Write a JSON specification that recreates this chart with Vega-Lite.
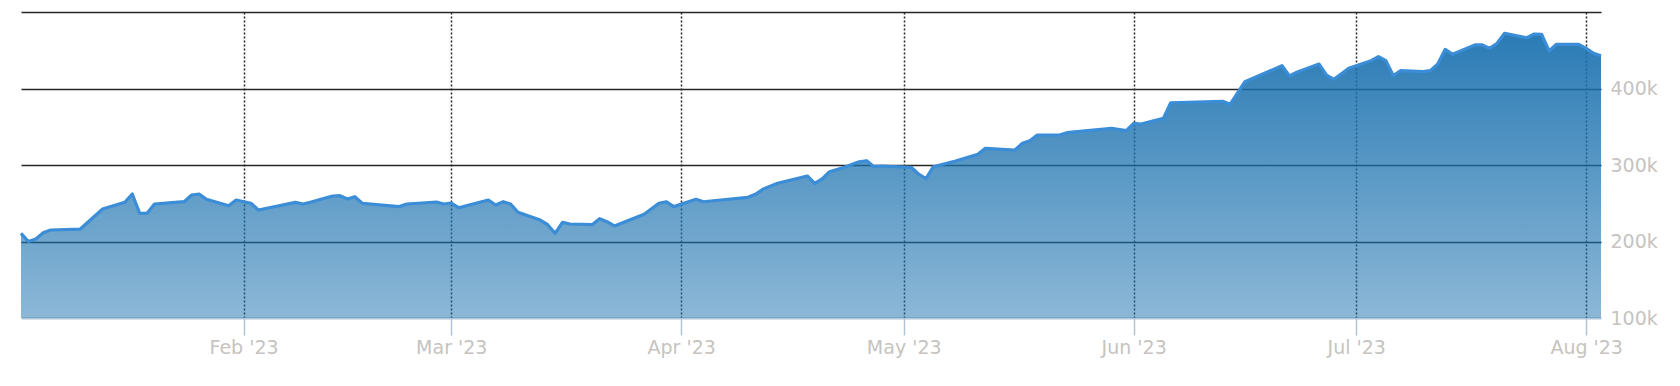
{
  "$schema": "https://vega.github.io/schema/vega-lite/v6.json",
  "width": 1580,
  "height": 306,
  "autosize": {"type": "none"},
  "padding": {"left": 21, "top": 12, "right": 79, "bottom": 68},
  "background": "white",
  "config": {"view": {"stroke": null}},
  "data": {
    "values": [
      {"date": "2023-01-02", "value": 210700},
      {"date": "2023-01-03", "value": 200000},
      {"date": "2023-01-04", "value": 203300},
      {"date": "2023-01-05", "value": 211500},
      {"date": "2023-01-06", "value": 215000},
      {"date": "2023-01-10", "value": 216300},
      {"date": "2023-01-13", "value": 242500},
      {"date": "2023-01-16", "value": 251200},
      {"date": "2023-01-17", "value": 262100},
      {"date": "2023-01-18", "value": 236900},
      {"date": "2023-01-19", "value": 236900},
      {"date": "2023-01-20", "value": 249000},
      {"date": "2023-01-24", "value": 252000},
      {"date": "2023-01-25", "value": 260800},
      {"date": "2023-01-26", "value": 262100},
      {"date": "2023-01-27", "value": 255200},
      {"date": "2023-01-30", "value": 246800},
      {"date": "2023-01-31", "value": 254200},
      {"date": "2023-02-02", "value": 250000},
      {"date": "2023-02-03", "value": 241200},
      {"date": "2023-02-08", "value": 251200},
      {"date": "2023-02-09", "value": 249000},
      {"date": "2023-02-10", "value": 251200},
      {"date": "2023-02-13", "value": 259500},
      {"date": "2023-02-14", "value": 259900},
      {"date": "2023-02-15", "value": 255600},
      {"date": "2023-02-16", "value": 258600},
      {"date": "2023-02-17", "value": 250000},
      {"date": "2023-02-22", "value": 245600},
      {"date": "2023-02-23", "value": 249000},
      {"date": "2023-02-27", "value": 251600},
      {"date": "2023-02-28", "value": 249000},
      {"date": "2023-03-01", "value": 250300},
      {"date": "2023-03-02", "value": 244200},
      {"date": "2023-03-06", "value": 254200},
      {"date": "2023-03-07", "value": 247700},
      {"date": "2023-03-08", "value": 252000},
      {"date": "2023-03-09", "value": 249000},
      {"date": "2023-03-10", "value": 238200},
      {"date": "2023-03-13", "value": 228000},
      {"date": "2023-03-14", "value": 222000},
      {"date": "2023-03-15", "value": 210700},
      {"date": "2023-03-16", "value": 225100},
      {"date": "2023-03-17", "value": 222900},
      {"date": "2023-03-20", "value": 222000},
      {"date": "2023-03-21", "value": 229900},
      {"date": "2023-03-22", "value": 225900},
      {"date": "2023-03-23", "value": 220300},
      {"date": "2023-03-27", "value": 235600},
      {"date": "2023-03-29", "value": 250000},
      {"date": "2023-03-30", "value": 252000},
      {"date": "2023-03-31", "value": 245600},
      {"date": "2023-04-03", "value": 255200},
      {"date": "2023-04-04", "value": 252000},
      {"date": "2023-04-10", "value": 257800},
      {"date": "2023-04-11", "value": 261700},
      {"date": "2023-04-12", "value": 268200},
      {"date": "2023-04-14", "value": 276100},
      {"date": "2023-04-18", "value": 285600},
      {"date": "2023-04-19", "value": 276100},
      {"date": "2023-04-20", "value": 281700},
      {"date": "2023-04-21", "value": 291200},
      {"date": "2023-04-23", "value": 297000},
      {"date": "2023-04-25", "value": 304300},
      {"date": "2023-04-26", "value": 305600},
      {"date": "2023-04-27", "value": 297800},
      {"date": "2023-04-28", "value": 298700},
      {"date": "2023-05-02", "value": 297000},
      {"date": "2023-05-03", "value": 288200},
      {"date": "2023-05-04", "value": 282100},
      {"date": "2023-05-05", "value": 297800},
      {"date": "2023-05-08", "value": 305200},
      {"date": "2023-05-11", "value": 314000},
      {"date": "2023-05-12", "value": 321800},
      {"date": "2023-05-16", "value": 319600},
      {"date": "2023-05-17", "value": 328400},
      {"date": "2023-05-18", "value": 331800},
      {"date": "2023-05-19", "value": 339200},
      {"date": "2023-05-22", "value": 339200},
      {"date": "2023-05-23", "value": 342200},
      {"date": "2023-05-29", "value": 348000},
      {"date": "2023-05-31", "value": 344900},
      {"date": "2023-06-01", "value": 354500},
      {"date": "2023-06-02", "value": 353600},
      {"date": "2023-06-05", "value": 361000},
      {"date": "2023-06-06", "value": 381400},
      {"date": "2023-06-13", "value": 383300},
      {"date": "2023-06-14", "value": 379300},
      {"date": "2023-06-16", "value": 408900},
      {"date": "2023-06-21", "value": 429800},
      {"date": "2023-06-22", "value": 416300},
      {"date": "2023-06-23", "value": 421200},
      {"date": "2023-06-26", "value": 432000},
      {"date": "2023-06-27", "value": 417600},
      {"date": "2023-06-28", "value": 412000},
      {"date": "2023-06-30", "value": 426400},
      {"date": "2023-07-03", "value": 436400},
      {"date": "2023-07-04", "value": 441600},
      {"date": "2023-07-05", "value": 436400},
      {"date": "2023-07-06", "value": 416800},
      {"date": "2023-07-07", "value": 423300},
      {"date": "2023-07-10", "value": 422000},
      {"date": "2023-07-11", "value": 423300},
      {"date": "2023-07-12", "value": 432000},
      {"date": "2023-07-13", "value": 451200},
      {"date": "2023-07-14", "value": 444700},
      {"date": "2023-07-17", "value": 456900},
      {"date": "2023-07-18", "value": 456900},
      {"date": "2023-07-19", "value": 452500},
      {"date": "2023-07-20", "value": 459100},
      {"date": "2023-07-21", "value": 472200},
      {"date": "2023-07-24", "value": 466400},
      {"date": "2023-07-25", "value": 471200},
      {"date": "2023-07-26", "value": 470800},
      {"date": "2023-07-27", "value": 449000},
      {"date": "2023-07-28", "value": 457800},
      {"date": "2023-07-31", "value": 457800},
      {"date": "2023-08-01", "value": 452500},
      {"date": "2023-08-02", "value": 446000},
      {"date": "2023-08-03", "value": 442900}
    ]
  },
  "encoding": {
    "x": {
      "field": "date",
      "type": "temporal",
      "scale": {"type": "utc", "nice": false, "padding": 0},
      "axis": {
        "title": null,
        "values": [
          {"year": 2023, "month": 2, "date": 1, "utc": true},
          {"year": 2023, "month": 3, "date": 1, "utc": true},
          {"year": 2023, "month": 4, "date": 1, "utc": true},
          {"year": 2023, "month": 5, "date": 1, "utc": true},
          {"year": 2023, "month": 6, "date": 1, "utc": true},
          {"year": 2023, "month": 7, "date": 1, "utc": true},
          {"year": 2023, "month": 8, "date": 1, "utc": true}
        ],
        "format": "%b '%y",
        "grid": true,
        "gridColor": "#262626",
        "gridDash": [2, 2],
        "gridWidth": 1.5,
        "domainColor": "#b0c4d8",
        "domainWidth": 2,
        "tickColor": "#b0c4d8",
        "tickSize": 17,
        "tickWidth": 1.5,
        "labelColor": "#c6c3c0",
        "labelFont": "DejaVu Sans",
        "labelFontSize": 19,
        "labelPadding": 3,
        "labelFlush": false,
        "labelOverlap": false,
        "zindex": 0
      }
    },
    "y": {
      "field": "value",
      "type": "quantitative",
      "scale": {"domain": [100000, 500000], "nice": false, "zero": false},
      "axis": {
        "orient": "right",
        "title": null,
        "values": [100000, 200000, 300000, 400000, 500000],
        "labelExpr": "datum.value >= 500000 ? '' : format(datum.value / 1000, 'd') + 'k'",
        "grid": true,
        "gridColor": "#262626",
        "gridWidth": 1.5,
        "gridOpacity": {"condition": {"test": "datum.value <= 100000", "value": 0}, "value": 1},
        "domain": false,
        "ticks": false,
        "tickSize": 0,
        "labelPadding": 9,
        "labelColor": "#c6c3c0",
        "labelFont": "DejaVu Sans",
        "labelFontSize": 19,
        "labelFlush": false,
        "labelOverlap": false,
        "zindex": 0
      }
    }
  },
  "layer": [
    {
      "mark": {
        "type": "area",
        "color": {
          "gradient": "linear",
          "x1": 0, "y1": 0, "x2": 0, "y2": 1,
          "stops": [
            {"offset": 0, "color": "rgba(26,113,175,0.93)"},
            {"offset": 1, "color": "rgba(26,113,175,0.5)"}
          ]
        }
      },
      "encoding": {
        "y2": {"datum": 100000}
      }
    },
    {
      "mark": {"type": "line", "color": "#3a8dd6", "strokeWidth": 3.2, "strokeJoin": "round"}
    }
  ]
}
